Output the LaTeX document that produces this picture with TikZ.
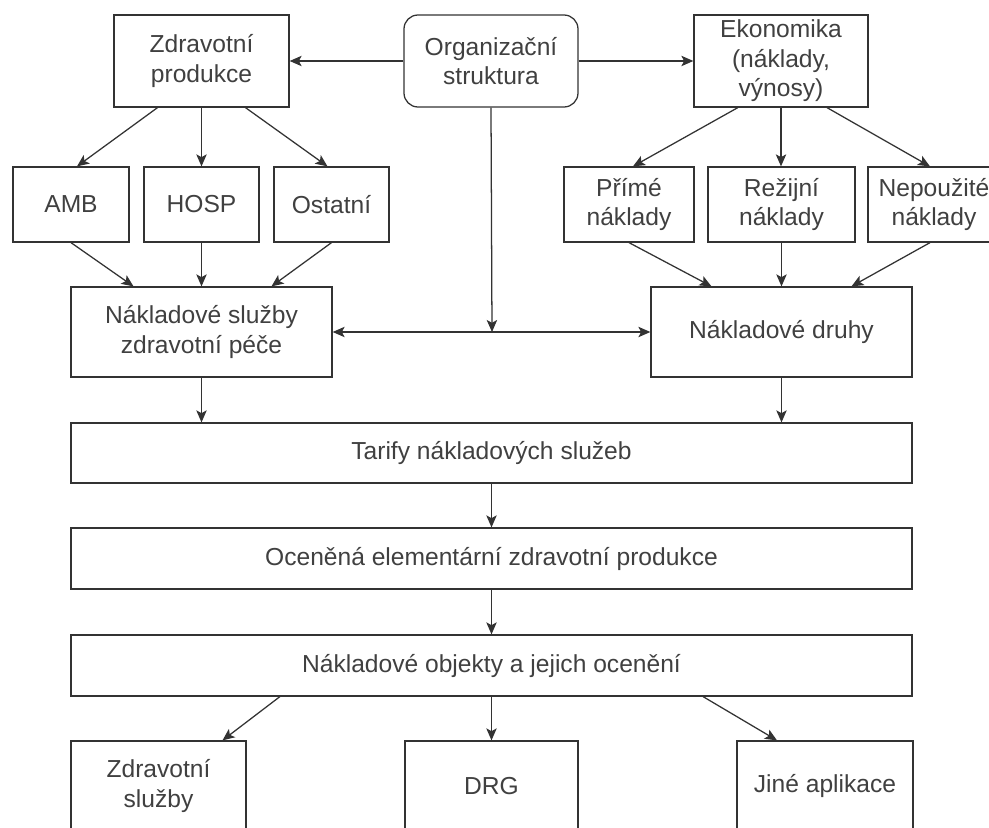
\documentclass[tikz,border=0pt]{standalone}
\usepackage{fontspec}
\setmainfont{Liberation Sans}
\usetikzlibrary{arrows.meta}

\begin{document}
\begin{tikzpicture}[
            squaredbox/.style={rectangle, draw=black!80, line width=0.9pt, text=black!75, align=center,
                               font=\fontsize{17.5}{21}\selectfont, inner sep=0pt},
            roundedbox/.style={squaredbox, rounded corners=0.35cm},
            line/.style={draw=black!80, line width=0.9pt, -{Stealth[length=3mm,width=2.6mm,inset=0.7mm]}}
          ]
          \useasboundingbox (0,0) rectangle (24.725,-20.7);

          %Nodes
          \node[squaredbox, minimum width=4.375cm, minimum height=2.3cm] at (5.0375,-1.525) (ZP) {Zdravotní\\produkce};
          \node[roundedbox, minimum width=4.35cm, minimum height=2.3cm] at (12.275,-1.525) (OS) {Organizační\\struktura};
          \node[squaredbox, minimum width=4.35cm, minimum height=2.3cm] at (19.525,-1.525) (EK) {Ekonomika\\(náklady,\\výnosy)};

          \node[squaredbox, minimum width=2.9cm, minimum height=1.875cm] at (1.775,-5.1125) (AMB) {AMB};
          \node[squaredbox, minimum width=2.875cm, minimum height=1.875cm] at (5.0375,-5.1125) (HOSP) {HOSP};
          \node[squaredbox, minimum width=2.875cm, minimum height=1.875cm] at (8.2875,-5.1125) (OST) {Ostatní};
          \node[squaredbox, minimum width=3.25cm, minimum height=1.875cm] at (15.725,-5.1125) (PN) {Přímé\\náklady};
          \node[squaredbox, minimum width=3.675cm, minimum height=1.875cm] at (19.5375,-5.1125) (RN) {Režijní\\náklady};
          \node[squaredbox, minimum width=3.3cm, minimum height=1.875cm] at (23.35,-5.1125) (NN) {Nepoužité\\náklady};

          \node[squaredbox, minimum width=6.525cm, minimum height=2.25cm] at (5.0375,-8.3) (NSZP) {Nákladové služby\\zdravotní péče};
          \node[squaredbox, minimum width=6.525cm, minimum height=2.25cm] at (19.5375,-8.3) (ND) {Nákladové druhy};
          \coordinate (J) at (12.3,-8.3);

          \node[squaredbox, minimum width=21.025cm, minimum height=1.5cm] at (12.2875,-11.325) (TNS) {Tarify nákladových služeb};
          \node[squaredbox, minimum width=21.025cm, minimum height=1.525cm] at (12.2875,-13.9625) (OEZP) {Oceněná elementární zdravotní produkce};
          \node[squaredbox, minimum width=21.025cm, minimum height=1.525cm] at (12.2875,-16.6375) (NO) {Nákladové objekty a jejich ocenění};

          \node[squaredbox, minimum width=4.375cm, minimum height=2.25cm] at (3.9625,-19.65) (ZS) {Zdravotní\\služby};
          \node[squaredbox, minimum width=4.325cm, minimum height=2.25cm] at (12.2875,-19.65) (DRG) {DRG};
          \node[squaredbox, minimum width=4.4cm, minimum height=2.25cm] at (20.625,-19.65) (JA) {Jiné aplikace};

          %Lines
          \draw[line] (OS) -- (ZP);
          \draw[line] (OS) -- (EK);
          \draw[line] (OS.south) -- (J);
          \draw[line] (J) -- (NSZP);
          \draw[line] (J) -- (ND);

          \draw[line] ([xshift=-1.1cm]ZP.south) -- ([xshift=0.15cm]AMB.north);
          \draw[line] (ZP) -- (HOSP);
          \draw[line] ([xshift=1.1cm]ZP.south) -- ([xshift=-0.1cm]OST.north);
          \draw[line] ([xshift=-1.08cm]EK.south) -- ([xshift=0.1cm]PN.north);
          \draw[line] (EK.south) -- (EK.south |- RN.north);
          \draw[line] ([xshift=1.15cm]EK.south) -- ([xshift=-0.1cm]NN.north);

          \draw[line] (AMB.south) -- ([xshift=-1.7cm]NSZP.north);
          \draw[line] (HOSP) -- (NSZP);
          \draw[line] (OST.south) -- ([xshift=1.75cm]NSZP.north);
          \draw[line] (PN.south) -- ([xshift=-1.75cm]ND.north);
          \draw[line] (RN) -- (ND);
          \draw[line] ([xshift=-0.1cm]NN.south) -- ([xshift=1.75cm]ND.north);

          \draw[line] (NSZP.south) -- (NSZP.south |- TNS.north);
          \draw[line] (ND.south) -- (ND.south |- TNS.north);
          \draw[line] (TNS) -- (OEZP);
          \draw[line] (OEZP) -- (NO);

          \draw[line] ([xshift=-5.29cm]NO.south) -- ([xshift=1.6cm]ZS.north);
          \draw[line] (NO) -- (DRG);
          \draw[line] ([xshift=5.29cm]NO.south) -- ([xshift=-1.2cm]JA.north);

        \end{tikzpicture}
\end{document}
